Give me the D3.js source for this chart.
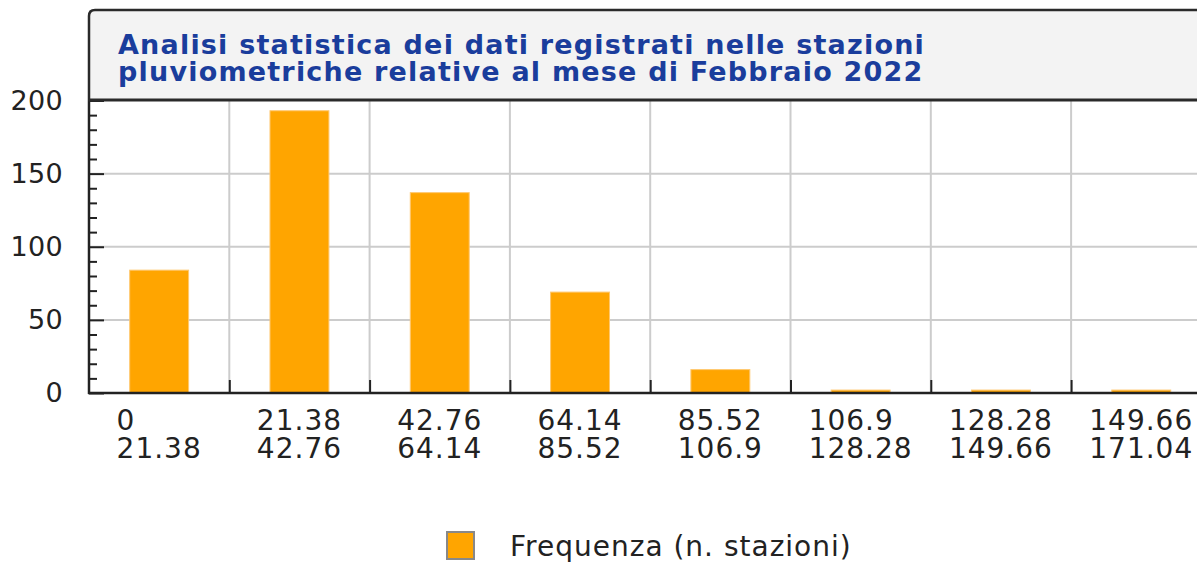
<!DOCTYPE html>
<html>
<head>
<meta charset="utf-8">
<script src="https://cdn.jsdelivr.net/npm/d3@7"></script>
<style>
  html, body { margin: 0; padding: 0; background: #fff; overflow: hidden; }
  svg { display: block; font-family: 'DejaVu Sans', sans-serif; }
</style>
</head>
<body>
<div id="chart"></div>
<script>
// classi di pioggia (mm) - limite inferiore / superiore
const classFrom = ['0', '21.38', '42.76', '64.14', '85.52', '106.9', '128.28', '149.66'];
const classTo = ['21.38', '42.76', '64.14', '85.52', '106.9', '128.28', '149.66', '171.04'];
// numero di stazioni per classe
const frequenza = [84, 193, 137, 69, 16, 2, 2, 2];
const yTicks = [0, 50, 100, 150, 200];
const titleLines = [
  'Analisi statistica dei dati registrati nelle stazioni',
  'pluviometriche relative al mese di Febbraio 2022',
];
const legendLabel = 'Frequenza (n. stazioni)';

class HistogramChart {
  options = {
    width: 1197,
    height: 562,
    left: 89,
    top: 100,
    bottom: 393,
    bandWidth: 140.3,
    barRatio: 0.42,
    color: '#ffa500',
  }

  constructor(elem) {
    this.elem = elem;
    this.createSvg();
    this.createScales();
    this.createTitleBox();
    this.createGrid();
    this.createBars();
    this.createAxes();
    this.createXLabels();
    this.createLegend();
  }

  createSvg() {
    const { width, height } = this.options;
    this.svg = d3.select(this.elem)
      .append('svg')
      .attr('width', width)
      .attr('height', height);
  }

  createScales() {
    const { left, top, bottom, bandWidth } = this.options;
    this.right = left + bandWidth * classFrom.length;
    this.x = d3.scaleBand()
      .domain(d3.range(classFrom.length))
      .range([left, this.right]);
    this.y = d3.scaleLinear()
      .domain([0, 200])
      .range([bottom, top + 0.5]);
    this.edges = d3.scaleLinear()
      .domain([0, classFrom.length])
      .range([left, this.right]);
  }

  createTitleBox() {
    const { left, top } = this.options;
    const boxTop = 10;
    this.svg.append('rect')
      .attr('x', left)
      .attr('y', boxTop)
      .attr('width', this.right - left + 40)
      .attr('height', top - boxTop)
      .attr('fill', '#f3f3f3');

    // bordo con angolo arrotondato in alto a sinistra
    this.svg.append('path')
      .attr('d', `M${left},${top} L${left},${boxTop + 6} Q${left},${boxTop} ${left + 6},${boxTop} L${this.right + 40},${boxTop}`)
      .attr('fill', 'none')
      .attr('stroke', '#2a2a2a')
      .attr('stroke-width', 2.5);

    this.svg.append('text')
      .attr('fill', '#1a3d9c')
      .attr('font-weight', 'bold')
      .attr('font-size', 27)
      .attr('letter-spacing', 1.2)
      .selectAll('tspan')
      .data(titleLines)
      .join('tspan')
      .attr('x', 118)
      .attr('y', (d, i) => 54 + i * 27)
      .text((d) => d);
  }

  createGrid() {
    const { left, top, bottom } = this.options;
    const grid = this.svg.append('g').attr('class', 'grid');

    grid.selectAll('.hline')
      .data(yTicks.filter((t) => t > 0 && t < 200))
      .join('line')
      .attr('x1', left)
      .attr('x2', this.right + 40)
      .attr('y1', (d) => this.y(d))
      .attr('y2', (d) => this.y(d))
      .attr('stroke', '#cccccc')
      .attr('stroke-width', 2);

    grid.selectAll('.vline')
      .data(d3.range(1, classFrom.length + 1))
      .join('line')
      .attr('x1', (d) => this.edges(d))
      .attr('x2', (d) => this.edges(d))
      .attr('y1', top)
      .attr('y2', bottom)
      .attr('stroke', '#cccccc')
      .attr('stroke-width', 2);
  }

  createBars() {
    const { barRatio, color } = this.options;
    const bw = this.x.bandwidth() * barRatio;
    this.svg.append('g')
      .selectAll('rect')
      .data(frequenza)
      .join('rect')
      .attr('x', (d, i) => this.x(i) + (this.x.bandwidth() - bw) / 2)
      .attr('y', (d) => this.y(d))
      .attr('width', bw)
      .attr('height', (d) => this.y(0) - this.y(d))
      .attr('fill', color)
      .attr('stroke', '#ffc870')
      .attr('stroke-width', 1);
  }

  createAxes() {
    const { left, top, bottom } = this.options;

    // tacche minori
    const minor = d3.range(0, 201, 10).filter((t) => t % 50 !== 0);
    this.svg.append('g')
      .attr('transform', `translate(${left},0)`)
      .call(d3.axisLeft(this.y).tickValues(minor).tickSize(-8).tickFormat(''))
      .call((g) => g.select('.domain').remove())
      .call((g) => g.selectAll('line').attr('stroke', '#222').attr('stroke-width', 2));

    const yAxis = this.svg.append('g')
      .attr('transform', `translate(${left},0)`)
      .call(d3.axisLeft(this.y).tickValues(yTicks).tickSize(-15).tickPadding(26));
    yAxis.select('.domain').remove();
    yAxis.selectAll('line').attr('stroke', '#222').attr('stroke-width', 2);
    yAxis.selectAll('text')
      .attr('font-family', 'DejaVu Sans, sans-serif')
      .attr('font-size', 27)
      .attr('letter-spacing', 0.3)
      .attr('fill', '#222');

    const xAxis = this.svg.append('g')
      .attr('transform', `translate(0,${bottom})`)
      .call(d3.axisBottom(this.edges).tickValues(d3.range(1, classFrom.length + 1)).tickSize(-13).tickFormat(''));
    xAxis.select('.domain').remove();
    xAxis.selectAll('line').attr('stroke', '#222').attr('stroke-width', 2);

    // assi e bordo superiore dell'area del grafico
    this.svg.append('line')
      .attr('x1', left).attr('x2', left)
      .attr('y1', top).attr('y2', bottom + 1)
      .attr('stroke', '#222').attr('stroke-width', 2.5);
    this.svg.append('line')
      .attr('x1', left - 1).attr('x2', this.right + 40)
      .attr('y1', bottom).attr('y2', bottom)
      .attr('stroke', '#222').attr('stroke-width', 2.5);
    this.svg.append('line')
      .attr('x1', left - 1).attr('x2', this.right + 40)
      .attr('y1', top).attr('y2', top)
      .attr('stroke', '#2a2a2a').attr('stroke-width', 3);
  }

  createXLabels() {
    const { bottom } = this.options;
    const labels = this.svg.append('g')
      .selectAll('text')
      .data(classFrom.map((from, i) => ({ from, to: classTo[i], i })))
      .join('text')
      .attr('font-size', 28)
      .attr('letter-spacing', 1)
      .attr('fill', '#222');

    labels.each((d, i, nodes) => {
      const t = d3.select(nodes[i]);
      const spans = [d.from, d.to].map((s, k) => t.append('tspan')
        .attr('y', bottom + 37 + k * 28)
        .text(s));
      const w = d3.max(spans, (s) => s.node().getComputedTextLength());
      const x0 = this.x(d.i) + this.x.bandwidth() / 2 - w / 2;
      spans.forEach((s) => s.attr('x', x0));
    });
  }

  createLegend() {
    const { color } = this.options;
    const legend = this.svg.append('g').attr('transform', 'translate(447,532)');
    legend.append('rect')
      .attr('width', 27)
      .attr('height', 27)
      .attr('fill', color)
      .attr('stroke', '#888')
      .attr('stroke-width', 2);
    legend.append('text')
      .attr('x', 63)
      .attr('y', 24)
      .attr('font-size', 28)
      .attr('letter-spacing', 1)
      .attr('fill', '#222')
      .text(legendLabel);
  }
}

new HistogramChart('#chart');
</script>
</body>
</html>
